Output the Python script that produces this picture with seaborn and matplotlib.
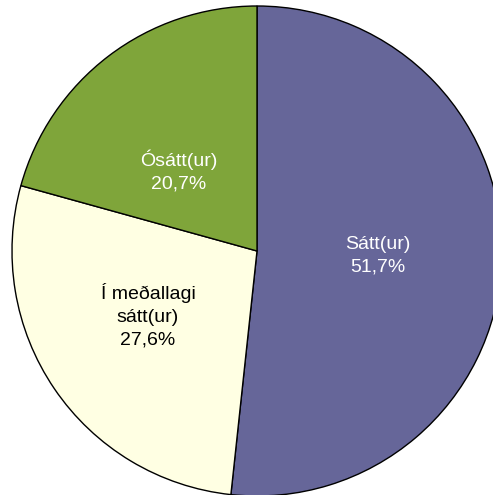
import matplotlib
matplotlib.use("Agg")
import matplotlib.pyplot as plt
import seaborn as sns

categories = ["Sátt(ur)", "Í meðallagi\nsátt(ur)", "Ósátt(ur)"]
values = [51.7, 27.6, 20.7]
colors = ["#666699", "#FFFFE3", "#7FA53A"]
text_colors = ["#FFFFFF", "#000000", "#FFFFFF"]
label_pos = [(378, 256), (148, 316), (179, 171)]

sns.set_theme(style="white")
plt.rcParams["font.family"] = ["Liberation Sans", "DejaVu Sans"]

W, H = 493, 495
fig = plt.figure(figsize=(W / 100, H / 100), dpi=100)
ax = fig.add_axes([0, 0, 1, 1])

cx, cy, R = 257, H - 251, 245
ax.pie(values, colors=colors, startangle=90, counterclock=False,
       radius=R, center=(cx, cy), frame=True,
       wedgeprops=dict(edgecolor="black", linewidth=1.0))
ax.set_xlim(0, W)
ax.set_ylim(0, H)
ax.set_aspect("equal")
ax.axis("off")

for cat, val, col, (x, y) in zip(categories, values, text_colors, label_pos):
    txt = f"{cat}\n{val:.1f}%".replace(".", ",")
    ax.text(x, H - y, txt, ha="center", va="center", color=col,
            fontsize=14, linespacing=1.45)

fig.savefig("out.png", dpi=100)
